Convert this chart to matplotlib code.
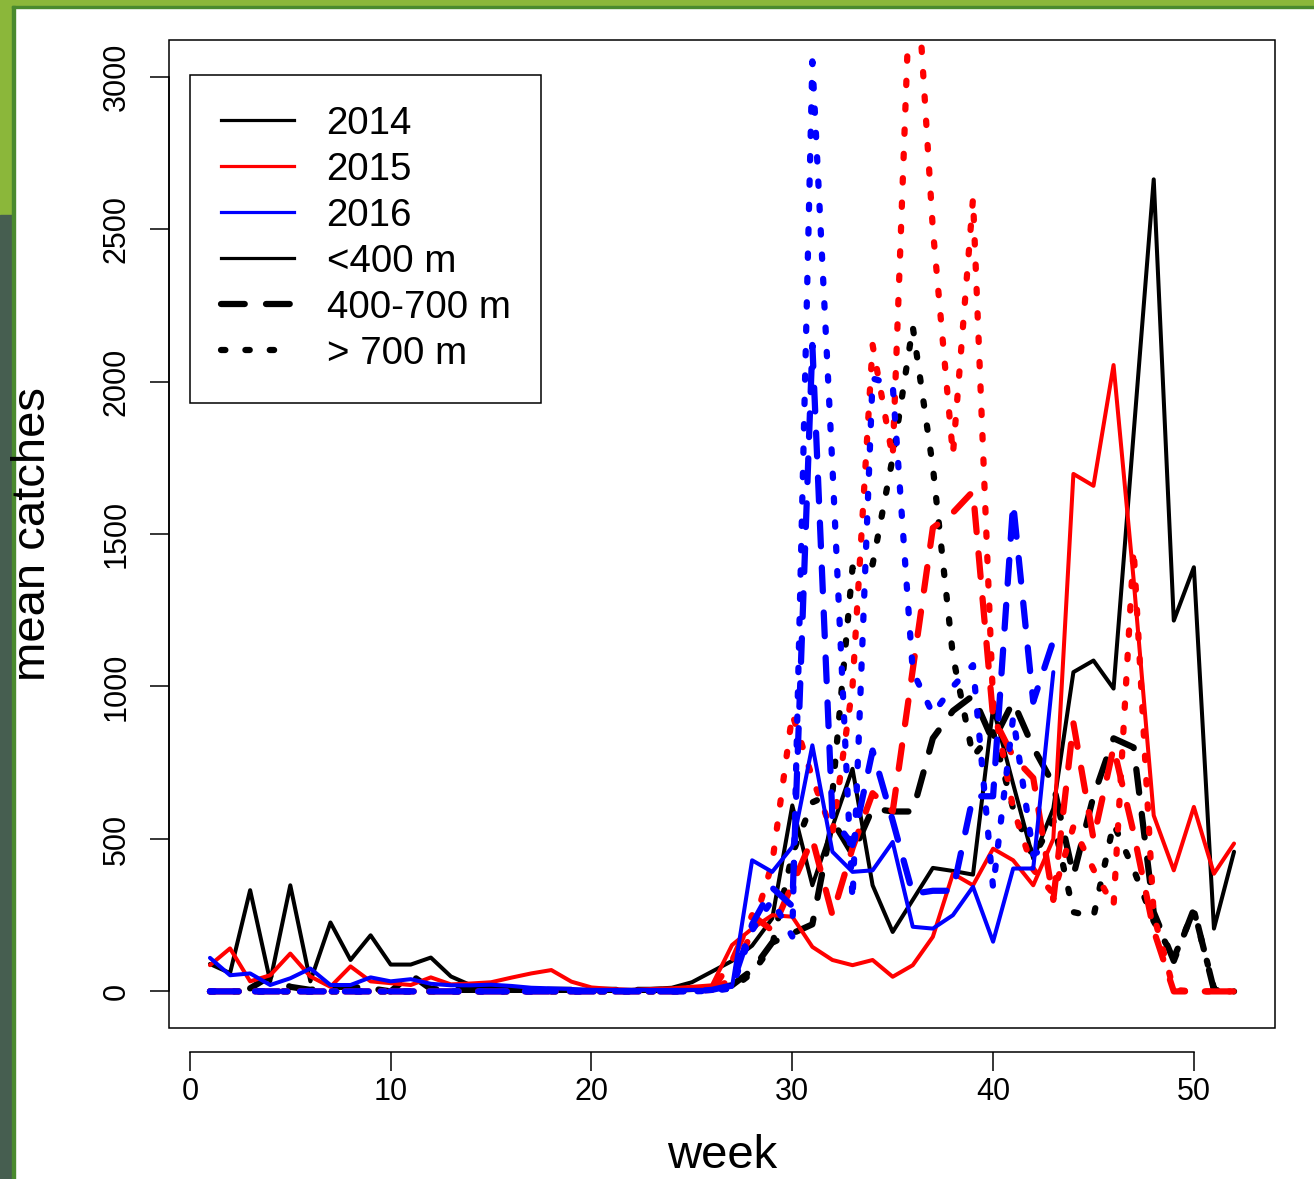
import numpy as np
import matplotlib
matplotlib.use("Agg")
import matplotlib.pyplot as plt
from matplotlib.lines import Line2D
from matplotlib.patches import Rectangle

nan = np.nan

# weeks 1..52 (2014, 2015) and 1..43 (2016)
weeks = np.arange(1, 53)
weeks16 = np.arange(1, 44)

# 2014
b_lt400 = [90, 60, 332, 33, 348, 33, 226, 103, 184, 88, 88, 111, 49, 20, 12, 8, 6, 5, 5, 5,
           5, 5, 8, 12, 30, 65, 100, 150, 239, 610, 348, 540, 730, 348, 195, 300, 405, 395, 383, 930,
           680, 435, 600, 1047, 1085, 993, 1830, 2663, 1216, 1391, 206, 458]
b_400_700 = [nan, nan, 10, 50, 15, 5, 15, 15, 10, 0, 55, 8, 5, 5, 5, 5, 5, 5, 5, 5,
             5, 5, 5, 5, 8, 10, 20, 70, 160, 190, 220, 560, 450, 600, 590, 590, 830, 920, 970, 820,
             950, 800, 680, 380, 640, 830, 800, 260, 100, 270, 5, 0]
b_gt700 = [0, 0, 0, 0, 0, 0, 0, 0, 0, 0, 0, 0, 0, 0, 0, 0, 0, 0, 0, 0,
           0, 0, 0, 0, 2, 5, 10, 60, 150, 450, 620, 650, 1390, 1400, 1750, 2180, 1720, 1100, 770, 850,
           600, 440, 560, 260, 245, 550, 400, 230, 110, 265, 10, 0]

# 2015
r_lt400 = [86, 141, 33, 53, 124, 49, 15, 82, 33, 27, 21, 46, 23, 26, 30, 45, 59, 70, 32, 13,
           8, 5, 8, 10, 15, 20, 152, 206, 250, 245, 146, 103, 86, 103, 48, 86, 179, 386, 348, 468,
           430, 348, 500, 1697, 1658, 2054, 1350, 577, 397, 605, 386, 485]
r_400_700 = [0, 0, 0, 0, 0, 0, 0, 0, 0, 0, 0, 0, 0, 0, 0, 0, 0, 0, 0, 0,
             0, 0, 0, 0, 2, 5, 100, 250, 200, 350, 500, 250, 470, 650, 590, 1055, 1520, 1570, 1640, 900,
             770, 700, 300, 880, 500, 800, 520, 200, 0, 0, 0, 0]
r_gt700 = [0, 0, 0, 0, 0, 0, 0, 0, 0, 0, 0, 0, 0, 0, 0, 0, 0, 0, 0, 0,
           0, 0, 0, 0, 2, 5, 40, 200, 420, 910, 700, 520, 1000, 2120, 1750, 3560, 2500, 1760, 2600, 950,
           600, 400, 320, 540, 400, 280, 1450, 250, 5, 0, 0, 0]

# 2016
u_lt400 = [110, 53, 59, 21, 43, 75, 21, 21, 46, 33, 40, 25, 20, 20, 22, 18, 12, 10, 8, 5,
           5, 5, 5, 5, 5, 5, 15, 430, 392, 474, 807, 458, 392, 397, 490, 212, 206, 250, 343, 163,
           403, 403, 1047]
u_400_700 = [0, 0, 0, 0, 0, 0, 0, 0, 0, 0, 0, 0, 0, 0, 0, 0, 0, 0, 0, 0,
             0, 0, 0, 0, 0, 5, 20, 220, 340, 280, 2120, 570, 480, 790, 560, 320, 330, 330, 640, 640,
             1600, 950, 1150]
u_gt700 = [0, 0, 0, 0, 0, 0, 0, 0, 0, 0, 0, 0, 0, 0, 0, 0, 0, 0, 0, 0,
           0, 0, 0, 0, 0, 2, 10, 200, 300, 180, 3050, 1720, 300, 2010, 1990, 1050, 910, 1000, 1070, 340,
           900, 450, 480]

plt.rcParams['font.family'] = ['Liberation Sans', 'DejaVu Sans']

W, H = 1314, 1179
fig = plt.figure(figsize=(W / 100, H / 100), dpi=100)
fig.patch.set_facecolor('white')

# page decoration (green frame on the left/top)
fig.patches.append(Rectangle((0, 1 - 6 / H), 1, 6 / H, transform=fig.transFigure, color='#8bb73a', zorder=0))
fig.patches.append(Rectangle((0, 1 - 215 / H), 12 / W, 215 / H, transform=fig.transFigure, color='#8bb73a', zorder=0))
fig.patches.append(Rectangle((0, 0), 12 / W, 1 - 215 / H, transform=fig.transFigure, color='#465e50', zorder=0))
fig.patches.append(Rectangle((12 / W, 0), 2.5 / W, 1 - 6 / H, transform=fig.transFigure, color='#4a8a2e', zorder=0))
fig.patches.append(Rectangle((12 / W, 1 - 7.5 / H), 1, 1.5 / H, transform=fig.transFigure, color='#4a8a2e', zorder=0))

ax = fig.add_axes([169 / W, 1 - 1028 / H, (1275 - 169) / W, (1028 - 40) / H])

lw_s = 2.9
lw_d = 4.5
solid = dict(lw=lw_s, ls='-', solid_capstyle='round', solid_joinstyle='round')
dashed = dict(lw=lw_d, ls=(0, (3.8, 3.4)), dash_capstyle='round', dash_joinstyle='round')
dotted = dict(lw=lw_d, ls=(0, (0.7, 3.2)), dash_capstyle='round', dash_joinstyle='round')

for col, x, ys in [('black', weeks, (b_lt400, b_400_700, b_gt700)),
                   ('red', weeks, (r_lt400, r_400_700, r_gt700)),
                   ('blue', weeks16, (u_lt400, u_400_700, u_gt700))]:
    ax.plot(x, ys[0], color=col, **solid)
    ax.plot(x, ys[1], color=col, **dashed)
    ax.plot(x, ys[2], color=col, **dotted)

ax.set_xlim(-1.04, 54.04)
ax.set_ylim(-120, 3120)

ax.set_xticks([0, 10, 20, 30, 40, 50])
ax.set_yticks(range(0, 3001, 500))
ax.set_yticklabels([str(v) for v in range(0, 3001, 500)], rotation=90, va='center')
ax.tick_params(axis='both', direction='out', length=13.7, width=1.1, labelsize=22, colors='black')
ax.tick_params(axis='y', pad=13)
ax.tick_params(axis='x', pad=4)

for s in ax.spines.values():
    s.set_linewidth(1.1)
ax.spines['bottom'].set_position(('outward', 17.3))
ax.spines['bottom'].set_bounds(0, 50)
ax.spines['left'].set_bounds(0, 3000)
ax.spines['top'].set_visible(False)
ax.spines['right'].set_visible(False)
ax.add_patch(Rectangle((0, 0), 1, 1, transform=ax.transAxes, fill=False, lw=1.1,
                       edgecolor='black', clip_on=False, zorder=5))

fig.text(33 / W, 1 - 534 / H, 'mean catches', rotation=90, ha='center', va='center', fontsize=34)
fig.text(722 / W, 1 - 1168 / H, 'week', ha='center', va='baseline', fontsize=34)

handles = [Line2D([], [], color='black', lw=2.3),
           Line2D([], [], color='red', lw=2.3),
           Line2D([], [], color='blue', lw=2.3),
           Line2D([], [], color='black', lw=2.3),
           Line2D([], [], color='black', **dashed),
           Line2D([], [], color='black', **dotted)]
labels = ['2014', '2015', '2016', '<400 m', '400-700 m', '> 700 m']
leg = ax.legend(handles, labels, loc='upper left', bbox_to_anchor=(21 / 1106, 1 - 35 / 988),
                borderaxespad=0, fontsize=27.7, frameon=True, fancybox=False, framealpha=1,
                edgecolor='black', handlelength=1.9, handletextpad=0.85, borderpad=0.8,
                labelspacing=0.26)
leg.get_frame().set_linewidth(1.1)

fig.savefig('out.png', dpi=100)
